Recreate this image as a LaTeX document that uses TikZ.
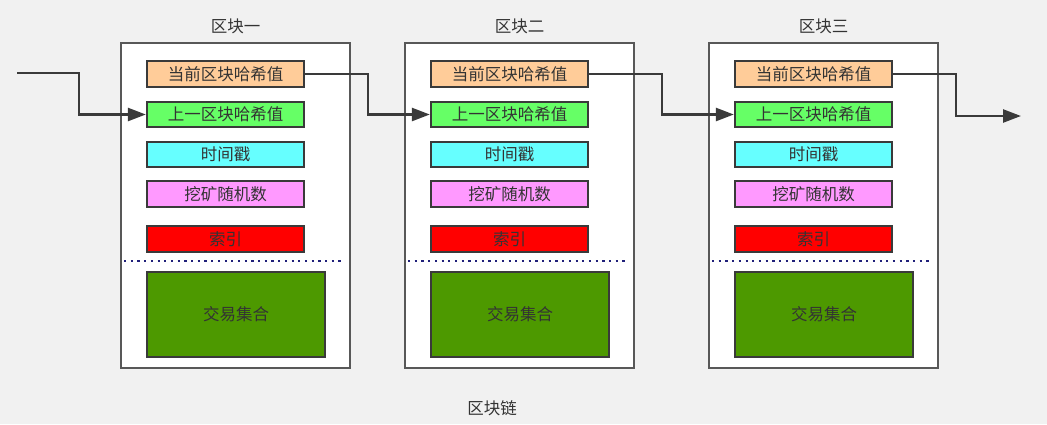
\documentclass[tikz,border=0pt]{standalone}
\usepackage{fontspec}
\setmainfont{Noto Sans CJK SC}
\usetikzlibrary{arrows.meta}
\definecolor{bg}{HTML}{F1F1F1}
\definecolor{ink}{HTML}{333333}
\definecolor{edge}{HTML}{3A3A3A}
\definecolor{cCur}{HTML}{FFCC99}
\definecolor{cPrev}{HTML}{66FF66}
\definecolor{cTime}{HTML}{66FFFF}
\definecolor{cNonce}{HTML}{FF99FF}
\definecolor{cIdx}{HTML}{FF0000}
\definecolor{cTx}{HTML}{4D9900}
\definecolor{cDot}{HTML}{20207A}
\tikzset{
  outerbox/.style={draw=edge!85!white, line width=2.5pt, fill=white, minimum width=229pt, minimum height=325pt, inner sep=0pt},
  field/.style={draw=edge, line width=2.3pt, minimum width=157pt, minimum height=25.5pt, inner sep=0pt, text=ink, font=\fontsize{16.5pt}{17pt}\selectfont},
  txbox/.style={draw=edge, line width=2.3pt, fill=cTx, minimum width=178pt, minimum height=85pt, inner sep=0pt, text=ink, font=\fontsize{16.5pt}{17pt}\selectfont},
  label/.style={text=ink, inner sep=0pt, font=\fontsize{16.5pt}{17pt}\selectfont},
  link/.style={draw=edge, line width=2.5pt, -{Triangle[length=18pt,width=13pt]}},
  sep/.style={draw=cDot, line width=2.5pt, dash pattern=on 2.2pt off 4.5pt}
}
\begin{document}
\begin{tikzpicture}[x=1pt,y=-1pt]
\fill[bg] (0,0) rectangle (1047,424);
\useasboundingbox (0,0) rectangle (1047,424);
\foreach \o/\n/\t in {0/1/区块一, 284/2/区块二, 588/3/区块三}{
  \node[outerbox] (blk\n) at (235.5+\o,205.5) {};
  \node[label] (title\n) at (235.5+\o,26) {\t};
  \node[field, fill=cCur] (cur\n) at (225.5+\o,74) {当前区块哈希值};
  \node[field, fill=cPrev] (prev\n) at (225.5+\o,114.5) {上一区块哈希值};
  \node[field, fill=cTime] (time\n) at (225.5+\o,154.5) {时间戳};
  \node[field, fill=cNonce] (nonce\n) at (225.5+\o,194) {挖矿随机数};
  \node[field, fill=cIdx] (idx\n) at (225.5+\o,239) {索引};
  \coordinate (sepL\n) at (124+\o,261);
  \coordinate (sepR\n) at (345+\o,261);
  \draw[sep] (sepL\n) -- (sepR\n);
  \node[txbox] (tx\n) at (236+\o,314.5) {交易集合};
}
\node[label] (chain) at (492,408) {区块链};
% connectors
\coordinate (in0) at (17,73);
\coordinate (j0) at (79,0);
\coordinate (j1) at (368,0);
\coordinate (j2) at (662,0);
\coordinate (j3) at (956,0);
\coordinate (out) at (1021,116);
\draw[link] (in0) -- (in0 -| j0) -- (prev1.west -| j0) -- (prev1.west);
\draw[link] (cur1.east) -- (cur1.east -| j1) -- (prev2.west -| j1) -- (prev2.west);
\draw[link] (cur2.east) -- (cur2.east -| j2) -- (prev3.west -| j2) -- (prev3.west);
\draw[link] (cur3.east) -- (cur3.east -| j3) -- (out -| j3) -- (out);
\end{tikzpicture}
\end{document}
